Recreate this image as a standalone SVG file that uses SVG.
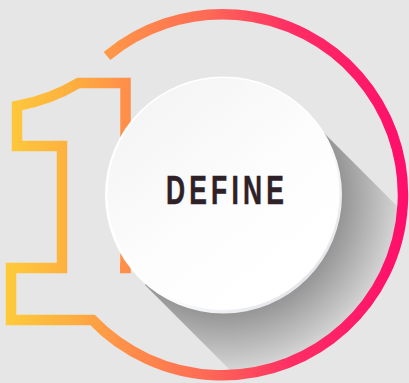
<svg xmlns="http://www.w3.org/2000/svg" width="409" height="383" viewBox="0 0 409 383">
<style>
.label{font-family:"Liberation Sans",Arial,sans-serif;font-weight:700;font-size:40px;fill:#2e2127;stroke:#2e2127;stroke-width:0.5px;letter-spacing:6.4px}
</style>
<defs>
<linearGradient id="stroke" gradientUnits="userSpaceOnUse" x1="6" y1="0" x2="404" y2="0">
<stop offset="0" stop-color="#ffca3a"/><stop offset="0.16" stop-color="#fdb03f"/><stop offset="0.3" stop-color="#ff8f4a"/><stop offset="0.5" stop-color="#ff6b55"/><stop offset="0.72" stop-color="#ff2d64"/><stop offset="1" stop-color="#ff0f6b"/>
</linearGradient>
<radialGradient id="shade" gradientUnits="userSpaceOnUse" cx="224" cy="195" r="178">
<stop offset="0.65" stop-color="#939393"/><stop offset="1" stop-color="#d8d8d8"/>
</radialGradient>
<linearGradient id="rim" x1="0.15" y1="0.15" x2="0.85" y2="0.85">
<stop offset="0.6" stop-color="#ffffff"/><stop offset="1" stop-color="#e4e6ea"/>
</linearGradient>
<linearGradient id="face" x1="0.1" y1="0.1" x2="0.75" y2="0.9">
<stop offset="0" stop-color="#f4f4f4"/><stop offset="0.6" stop-color="#fdfdfd"/><stop offset="1" stop-color="#ffffff"/>
</linearGradient>
<clipPath id="inside"><circle cx="224" cy="195.500" r="176"/></clipPath>
</defs>
<rect width="409" height="383" fill="#e6e6e6"/>
<path id="shadow" clip-path="url(#inside)" fill="url(#shade)" d="M307 116 L427 236 L263 403 L145 285 Z"/>
<g id="connectors">
<path id="outline" fill="none" stroke="url(#stroke)" stroke-width="10.500" stroke-miterlimit="10" d="M107 56 A180.500 180.500 0 1 1 92.500 320 H11 V268 H62 V146 H17 V106 Q50 100 78.500 83 H125.500 V268 H120"/>
</g>
<g id="node-define">
<circle cx="223.500" cy="195" r="118.500" fill="url(#rim)"/>
<circle cx="223.500" cy="194" r="116" fill="url(#face)"/>
<text class="label" transform="translate(166 203.500) scale(0.66 1)">DEFINE</text>
</g>
</svg>
